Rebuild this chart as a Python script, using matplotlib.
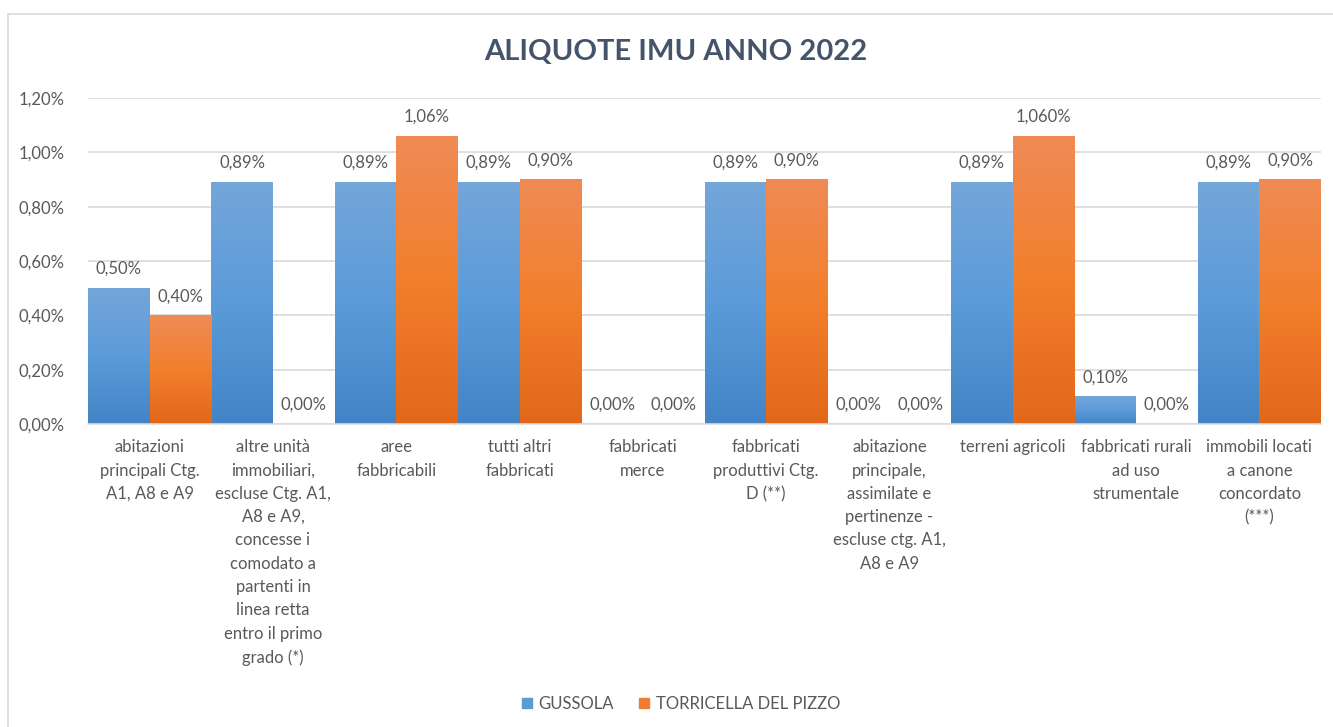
import matplotlib
matplotlib.use("Agg")
import matplotlib.pyplot as plt
import numpy as np
from matplotlib.patches import Rectangle
from matplotlib.colors import LinearSegmentedColormap

plt.rcParams['font.family'] = ['Lato', 'DejaVu Sans']

categories = [
    "abitazioni\nprincipali Ctg.\nA1, A8 e A9",
    "altre unità\nimmobiliari,\nescluse Ctg. A1,\nA8 e A9,\nconcesse i\ncomodato a\npartenti in\nlinea retta\nentro il primo\ngrado (*)",
    "aree\nfabbricabili",
    "tutti altri\nfabbricati",
    "fabbricati\nmerce",
    "fabbricati\nproduttivi Ctg.\nD (**)",
    "abitazione\nprincipale,\nassimilate e\npertinenze -\nescluse ctg. A1,\nA8 e A9",
    "terreni agricoli",
    "fabbricati rurali\nad uso\nstrumentale",
    "immobili locati\na canone\nconcordato\n(***)",
]
series_names = ["GUSSOLA", "TORRICELLA DEL PIZZO"]
gussola = [0.50, 0.89, 0.89, 0.89, 0.00, 0.89, 0.00, 0.89, 0.10, 0.89]
torricella = [0.40, 0.00, 1.06, 0.90, 0.00, 0.90, 0.00, 1.06, 0.00, 0.90]
gussola_dec = [2, 2, 2, 2, 2, 2, 2, 2, 2, 2]
torricella_dec = [2, 2, 2, 2, 2, 2, 2, 3, 2, 2]
yticks = [0.0, 0.2, 0.4, 0.6, 0.8, 1.0, 1.2]
title = "ALIQUOTE IMU ANNO 2022"

W, H = 1333, 727
fig = plt.figure(figsize=(W / 100, H / 100), dpi=100)
fig.patch.set_facecolor("white")

# chart frame
fig.patches.append(Rectangle((8 / W, -0.1), 1.2, 1 - 14 / H + 0.1, transform=fig.transFigure,
                             fill=False, edgecolor="#D9D9D9", linewidth=1.2))

ax = fig.add_axes([88 / W, 1 - 424 / H, (1321 - 88) / W, (424 - 98) / H])
ax.set_facecolor("none")

x = np.arange(len(categories))
bw = 0.5

text_color = "#595959"
fs = 12

def fmt(v, d):
    return (f"{v:.{d}f}" + "%").replace(".", ",")

blue_cmap = LinearSegmentedColormap.from_list("b", ["#4384C6", "#5B9BD9", "#74A6DA"])
orange_cmap = LinearSegmentedColormap.from_list("o", ["#E2671A", "#F27F2C", "#EF8B55"])
grad = np.linspace(0, 1, 256).reshape(-1, 1)

for vals, decs, off, cmap in [(gussola, gussola_dec, -bw / 2, blue_cmap),
                              (torricella, torricella_dec, bw / 2, orange_cmap)]:
    bars = ax.bar(x + off, vals, width=bw, color="none", edgecolor="none", zorder=2)
    for b, v, d in zip(bars, vals, decs):
        x0, y0 = b.get_x(), b.get_y()
        w, h = b.get_width(), b.get_height()
        if h > 0:
            ax.imshow(grad, extent=(x0, x0 + w, y0, y0 + h), origin="lower", cmap=cmap,
                      aspect="auto", zorder=2, interpolation="bilinear")
        ax.annotate(fmt(v, d), (x0 + w / 2, y0 + h), xytext=(0, 8), textcoords="offset points",
                    ha="center", va="bottom", fontsize=fs, color=text_color, zorder=3)

ax.set_xlim(-0.5, len(categories) - 0.5)
ax.set_ylim(0, 1.2)
ax.set_yticks(yticks)
ax.set_yticklabels([fmt(t, 2) for t in yticks], fontsize=fs, color=text_color)
ax.set_xticks(x)
ax.set_xticklabels(categories, fontsize=fs, color=text_color, linespacing=1.56, va="top")
ax.tick_params(axis="both", length=0)
ax.tick_params(axis="x", pad=11)
ax.tick_params(axis="y", pad=17)
ax.grid(axis="y", color="#D9D9D9", linewidth=1.2, zorder=0)
ax.set_axisbelow(True)
for s in ["top", "right", "left"]:
    ax.spines[s].set_visible(False)
ax.spines["bottom"].set_color("#D9D9D9")
ax.spines["bottom"].set_linewidth(1.2)

fig.text(676 / W, 1 - 52 / H, title, ha="center", va="center", fontsize=21,
         fontweight="bold", color="#44546A")

handles = [Rectangle((0, 0), 1, 1, color="#5B9BD5"), Rectangle((0, 0), 1, 1, color="#ED7D31")]
fig.legend(handles, series_names, loc="center", bbox_to_anchor=(681 / W, 1 - 704 / H), ncol=2,
           frameon=False, fontsize=fs, labelcolor=text_color, handlelength=0.6,
           handleheight=0.6, handletextpad=0.4, columnspacing=1.5)

fig.savefig("out.png", dpi=100)
